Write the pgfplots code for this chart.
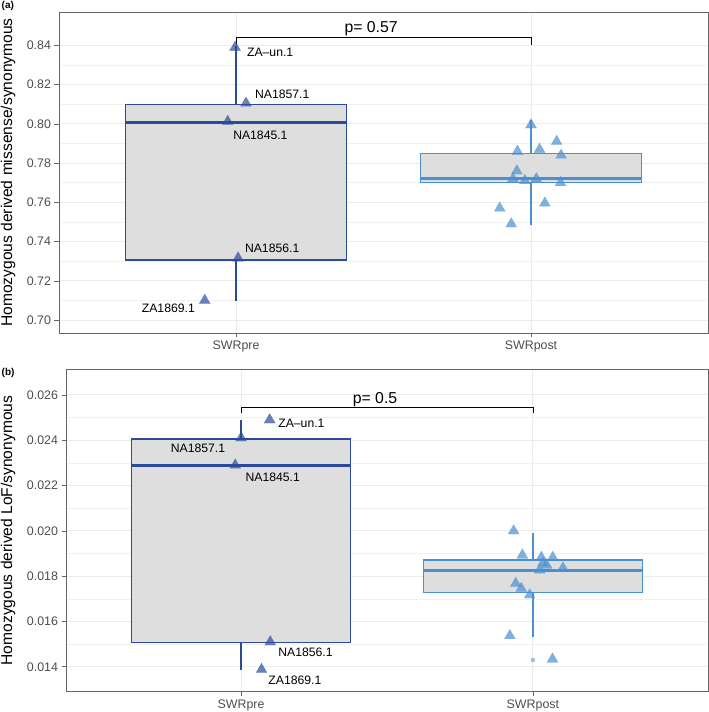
\documentclass[border=0pt]{standalone}
\usepackage{fontspec}
\setmainfont{Liberation Sans}
\usepackage{pgfplots}
\pgfplotsset{compat=1.18}
\usepgfplotslibrary{statistics}
\definecolor{preblue}{HTML}{2B4A9C}
\definecolor{postblue}{HTML}{4A8FD0}
\definecolor{boxgray}{HTML}{DEDEDE}
\definecolor{gridgray}{HTML}{EBEBEB}
\definecolor{ticktext}{HTML}{4D4D4D}
\definecolor{bordergray}{HTML}{666666}
\tikzset{lab/.style={font=\fontsize{12.2}{14}\selectfont, inner sep=0pt}}
\pgfplotsset{
  panel/.style={
    scale only axis, anchor=south west,
    xmin=0.4, xmax=2.6,
    xtick={1,2}, xticklabels={SWRpre,SWRpost},
    tick pos=left, tick align=outside,
    major tick length=4.5pt, minor tick length=0pt,
    tick style={bordergray, line width=0.6pt},
    axis line style={bordergray, line width=0.8pt},
    xmajorgrids, ymajorgrids, yminorgrids, minor y tick num=1,
    major grid style={gridgray, line width=0.9pt},
    minor grid style={gridgray!70, line width=0.6pt},
    ticklabel style={font=\fontsize{12.4}{14}\selectfont, text=ticktext},
    /pgf/number format/assume math mode=true,
    ylabel style={font=\fontsize{15.6}{18}\selectfont, anchor=center},
    boxplot/draw direction=y,
  },
  bx/.style={boxplot/every median/.style={line width=3pt},
    boxplot/every box/.style={line width=1.4pt},
    boxplot/every whisker/.style={line width=1.3pt}},
  pretri/.style={only marks, mark=triangle*, mark size=6.4pt,
    mark options={line width=0.1pt, draw=preblue, fill=preblue, fill opacity=0.7, draw opacity=0.7}},
  posttri/.style={only marks, mark=triangle*, mark size=6.4pt,
    mark options={line width=0.1pt, draw=postblue, fill=postblue, fill opacity=0.7, draw opacity=0.7}},
}
\begin{document}
\begin{tikzpicture}
\useasboundingbox (0,0) rectangle (709pt,712pt);
% ---------------- panel (a)
\begin{axis}[panel,
  at={(59pt,379pt)}, width=649pt, height=321pt,
  ymin=0.6934, ymax=0.857,
  ytick={0.70,0.72,0.74,0.76,0.78,0.80,0.82,0.84},
  yticklabel style={/pgf/number format/.cd, fixed, fixed zerofill, precision=2},
  ylabel={Homozygous derived missense/synonymous},
  ylabel style={at={(axis description cs:-0.0786,0.5)}},
]
\addplot[bx, draw=preblue, fill=boxgray, boxplot prepared={draw position=1,
  lower whisker=0.7097, lower quartile=0.7306, median=0.8009,
  upper quartile=0.8100, upper whisker=0.8395, box extend=0.75, whisker extend=0}]
  coordinates {};
\addplot[bx, draw=postblue, fill=boxgray, boxplot prepared={draw position=2,
  lower whisker=0.7485, lower quartile=0.7700, median=0.7720,
  upper quartile=0.7850, upper whisker=0.8020, box extend=0.75, whisker extend=0}]
  coordinates {};
\addplot[pretri] coordinates {
  (0.997,0.8390) (1.034,0.8105) (0.972,0.8012) (1.007,0.7316) (0.894,0.7100)};
\addplot[posttri] coordinates {
  (2.000,0.7995) (2.087,0.7910) (2.029,0.7870) (1.954,0.7860) (2.102,0.7840)
  (1.952,0.7760) (1.939,0.7720) (1.979,0.7710) (2.018,0.7720) (2.100,0.7700)
  (2.047,0.7596) (1.894,0.7570) (1.933,0.7490)};
\addplot[black, line width=0.6pt] coordinates {(1,0.8404) (1,0.8440) (2,0.8440) (2,0.8404)};
\node[font=\fontsize{15.8}{18}\selectfont] at (axis cs:1.458,0.8485) {p= 0.57};
\node[lab, anchor=west] at (axis cs:1.037,0.8363) {ZA–un.1};
\node[lab, anchor=west] at (axis cs:1.064,0.8153) {NA1857.1};
\node[lab, anchor=west] at (axis cs:0.990,0.7944) {NA1845.1};
\node[lab, anchor=west] at (axis cs:1.030,0.7367) {NA1856.1};
\node[lab, anchor=east] at (axis cs:0.861,0.7061) {ZA1869.1};
\end{axis}
% ---------------- panel (b)  (values in units of 0.001)
\begin{axis}[panel,
  at={(66pt,20.3pt)}, width=642pt, height=322.4pt,
  ymin=12.9, ymax=27.13,
  ytick={14,16,18,20,22,24,26},
  yticklabels={0.014,0.016,0.018,0.020,0.022,0.024,0.026},
  ylabel={Homozygous derived LoF/synonymous},
  ylabel style={at={(axis description cs:-0.0903,0.5)}},
]
\addplot[bx, draw=preblue, fill=boxgray, boxplot prepared={draw position=1,
  lower whisker=13.85, lower quartile=15.08, median=22.89,
  upper quartile=24.06, upper whisker=24.89, box extend=0.75, whisker extend=0}]
  coordinates {};
\addplot[bx, draw=postblue, fill=boxgray, boxplot prepared={draw position=2,
  lower whisker=15.33, lower quartile=17.29, median=18.27,
  upper quartile=18.71, upper whisker=19.92, box extend=0.75, whisker extend=0}]
  coordinates {};
\addplot[only marks, mark=*, mark size=2.2pt,
  mark options={line width=0.1pt, draw=postblue, fill=postblue, fill opacity=0.5, draw opacity=0.5}] coordinates {(2,14.3)};
\addplot[pretri] coordinates {
  (1.098,24.90) (1.000,24.10) (0.980,22.90) (1.100,15.10) (1.070,13.88)};
\addplot[posttri] coordinates {
  (1.934,20.00) (1.964,18.93) (2.029,18.83) (2.068,18.83) (2.034,18.57)
  (2.023,18.27) (2.103,18.36) (2.047,18.49) (1.941,17.68) (1.960,17.46)
  (1.989,17.17) (1.921,15.37) (2.067,14.34)};
\addplot[black, line width=0.6pt] coordinates {(1,25.20) (1,25.46) (2,25.46) (2,25.20)};
\node[font=\fontsize{15.8}{18}\selectfont] at (axis cs:1.459,25.8) {p= 0.5};
\node[lab, anchor=west] at (axis cs:1.127,24.76) {ZA–un.1};
\node[lab, anchor=east] at (axis cs:0.946,23.66) {NA1857.1};
\node[lab, anchor=west] at (axis cs:1.015,22.35) {NA1845.1};
\node[lab, anchor=west] at (axis cs:1.127,14.62) {NA1856.1};
\node[lab, anchor=west] at (axis cs:1.093,13.41) {ZA1869.1};
\end{axis}
\node[anchor=west, inner sep=0pt, font=\bfseries\fontsize{10}{12}\selectfont] at (1.5pt,706pt) {(a)};
\node[anchor=west, inner sep=0pt, font=\bfseries\fontsize{10}{12}\selectfont] at (1.5pt,338.7pt) {(b)};
\end{tikzpicture}
\end{document}
